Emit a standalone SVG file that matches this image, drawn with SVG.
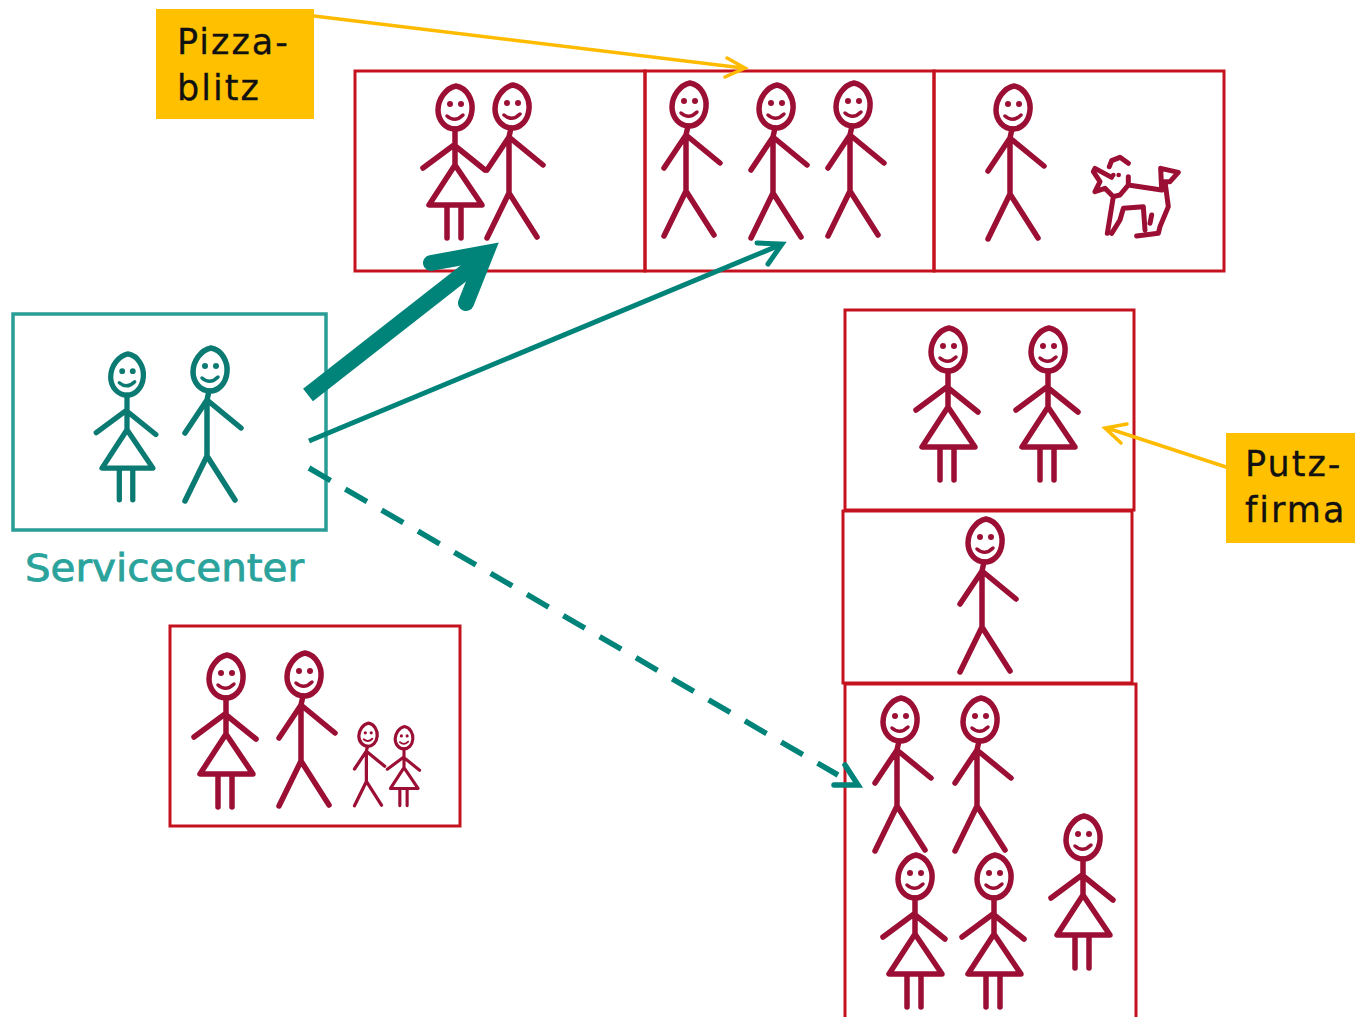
<svg xmlns="http://www.w3.org/2000/svg" width="1355" height="1017" viewBox="0 0 1355 1017">
<style>
.box{fill:none;stroke:#c5121f;stroke-width:3}
.red{color:#9c0f35;fill:none;stroke:#9c0f35;stroke-width:5.500;stroke-linecap:round;stroke-linejoin:round}
.teal{color:#0a7a72;fill:none;stroke:#0a7a72;stroke-width:5.500;stroke-linecap:round;stroke-linejoin:round}
.eye{stroke:none;fill:currentColor}
.tag{fill:#ffc000}
.tagt{font-family:"DejaVu Sans",sans-serif;font-size:35px;fill:#111;stroke:#111;stroke-width:.3;letter-spacing:2px}
.y{fill:none;stroke:#ffbb00;stroke-width:3.500;stroke-linecap:round}
.t{fill:none;stroke:#008379;stroke-linejoin:miter}
.rc{stroke-linecap:round}
</style>
<defs>
<g id="face"><path d="M1,-22C12,-20 18,-8 17,2C16,14 8,21 0,21C-9,21 -17,13 -17,2C-17,-9 -9,-20 1,-22Z"/><circle class="eye" cx="-5" cy="-4" r="3"/><circle class="eye" cx="6" cy="-4" r="3"/><path d="M-8,8Q0,15 8,7" stroke-width="3.500"/></g>
<g id="woman"><use href="#face"/><path d="M0,21V57M-32,60L-1,37L30,62M0,57L-26,97H27ZM-8,97V130M6,97V130"/></g>
<g id="man"><use href="#face"/><path d="M-1,21L-3,30V86M-25,63L-3,30L31,58M-25,131L-3,86L25,130"/></g>
</defs>
<g id="pizzablitz"><rect class="tag" x="156" y="9" width="158" height="110"/><text class="tagt" x="177" y="54">Pizza-</text><text class="tagt" x="177" y="100">blitz</text></g>
<g id="putzfirma"><rect class="tag" x="1226" y="433" width="129" height="110"/><text class="tagt" x="1245" y="476">Putz-</text><text class="tagt" x="1245" y="522">firma</text></g>
<g id="servicecenter">
<rect x="13" y="314" width="313" height="216" fill="none" stroke="#2a9d97" stroke-width="3.500"/>
<g class="teal"><use href="#woman" transform="translate(127,375) scale(.96)"/><use href="#man" transform="translate(210,370)"/></g>
<text x="25" y="581" font-family="'DejaVu Sans',sans-serif" font-size="37" fill="#2aa39c" stroke="#2aa39c" stroke-width=".8" textLength="279" lengthAdjust="spacingAndGlyphs">Servicecenter</text>
</g>
<g id="haushalt1"><rect class="box" x="355" y="71" width="290" height="200"/><g class="red"><use href="#woman" transform="translate(455,108)"/><use href="#man" transform="translate(512,107)"/></g></g>
<g id="haushalt2"><rect class="box" x="645" y="71" width="289" height="200"/><g class="red"><use href="#man" transform="translate(689,105)"/><use href="#man" transform="translate(776,107)"/><use href="#man" transform="translate(853,105)"/></g></g>
<g id="haushalt3"><rect class="box" x="934" y="71" width="290" height="200"/><g class="red"><use href="#man" transform="translate(1013,108)"/>
<g id="dog" transform="translate(1070,140) scale(.3333)" stroke-width="15"><path d="M118,80L125,62L150,52L175,70M125,112L75,85L70,95L90,125L75,155L105,145L130,170L112,280M175,110V135L150,165L130,170M175,135L275,150M275,150L272,85L325,97L300,125H280M285,125L295,200L270,260L265,280L200,288M125,280L150,240L160,205L220,200L225,270M245,225L240,250"/><circle class="eye" cx="130" cy="105" r="7"/><circle class="eye" cx="146" cy="105" r="7"/></g>
</g></g>
<g id="haushalt4"><rect class="box" x="845" y="310" width="289" height="200"/><g class="red"><use href="#woman" transform="translate(948,350)"/><use href="#woman" transform="translate(1048,350)"/></g></g>
<g id="haushalt5"><rect class="box" x="843" y="511" width="289" height="172"/><g class="red"><use href="#man" transform="translate(985,541)"/></g></g>
<g id="haushalt6"><rect class="box" x="845" y="684" width="291" height="340"/><g class="red"><use href="#man" transform="translate(900,720)"/><use href="#man" transform="translate(980,720)"/><use href="#woman" transform="translate(915,877)"/><use href="#woman" transform="translate(994,877)"/><use href="#woman" transform="translate(1083,838)"/></g></g>
<g id="haushalt7"><rect class="box" x="170" y="626" width="290" height="200"/><g class="red"><use href="#woman" transform="translate(226,677)"/><use href="#man" transform="translate(304,675)"/><use href="#man" transform="translate(368,735) scale(.54)" stroke-width="6"/><use href="#woman" transform="translate(404,738) scale(.52)" stroke-width="6"/></g></g>
<g id="connectors">
<path class="y" d="M314,16L743,68M727,58L745,68L725,77"/>
<path class="y" d="M1226,467L1107,428M1127,424L1105,428L1121,443"/>
<path class="t" stroke-width="16" d="M308,395L478,262"/>
<path class="t rc" stroke-width="16" d="M431,263L486,253L466,303"/>
<path class="t" stroke-width="5" d="M309,441L780,245"/>
<path class="t rc" stroke-width="5" d="M757,243L782,244L768,264"/>
<path class="t" stroke="#058a82" stroke-width="5.500" stroke-dasharray="25 17" d="M309,468L838,775"/>
<path class="t rc" stroke-width="5.500" d="M834,785H858L845,765"/>
</g>
</svg>
